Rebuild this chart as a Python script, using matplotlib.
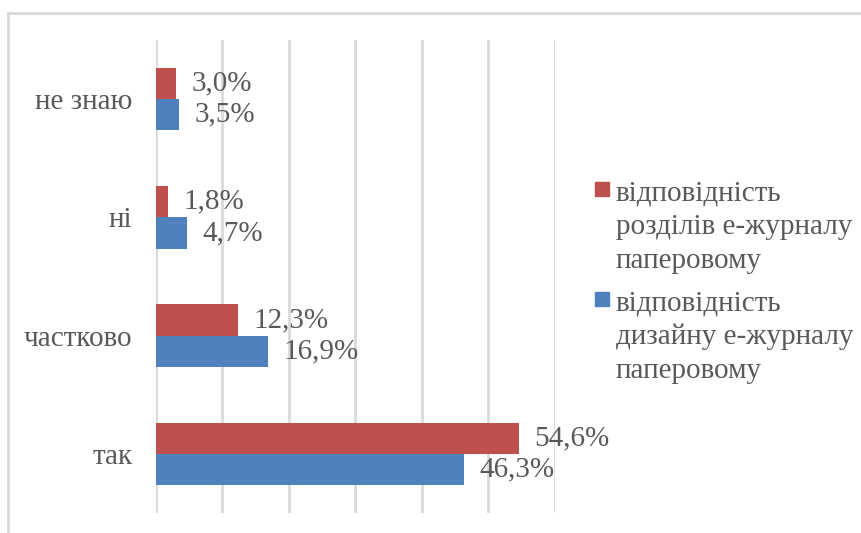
import numpy as np
import matplotlib.pyplot as plt
from matplotlib.lines import Line2D
from matplotlib.patches import Rectangle

categories = ["так", "частково", "ні", "не знаю"]
rozdily = [54.6, 12.3, 1.8, 3.0]
dyzain = [46.3, 16.9, 4.7, 3.5]
label_rozdily = "відповідність\nрозділів е-журналу\nпаперовому"
label_dyzain = "відповідність\nдизайну е-журналу\nпаперовому"

red = "#C0504D"
blue = "#4F81BD"
grey = "#595959"
fs = 21

plt.rcParams["font.family"] = ["Liberation Serif", "DejaVu Serif"]

fig = plt.figure(figsize=(8.62, 5.33), dpi=100)
ax = fig.add_axes([156 / 862, 1 - 513 / 533, (555 - 156) / 862, (513 - 40) / 533])

y = np.arange(len(categories))
h = 0.265
b1 = ax.barh(y + h / 2, rozdily, h, color=red, label=label_rozdily)
b2 = ax.barh(y - h / 2, dyzain, h, color=blue, label=label_dyzain)

for bars, vals in [(b1, rozdily), (b2, dyzain)]:
    for bar, v in zip(bars, vals):
        ax.annotate(f"{v:.1f}%".replace(".", ","),
                    (bar.get_width(), bar.get_y() + bar.get_height() / 2),
                    xytext=(11, 0), textcoords="offset points",
                    ha="left", va="center", fontsize=fs, color=grey)

ax.set_xlim(0, 60)
ax.set_ylim(-0.5, 3.5)
ax.set_xticks(np.arange(0, 61, 10))
ax.set_xticklabels([])
ax.set_yticks(y)
ax.set_yticklabels(categories, fontsize=fs, color=grey)
ax.tick_params(length=0, axis="both")
ax.tick_params(axis="y", pad=17)
ax.grid(axis="x", color="#D9D9D9", lw=2)
ax.set_axisbelow(True)
for s in ax.spines.values():
    s.set_visible(False)

# legend, marker next to the first line of each entry
W, H = 862, 533
for col, lab, ytop in [(red, label_rozdily, 182), (blue, label_dyzain, 292)]:
    fig.add_artist(Rectangle((595 / W, 1 - (ytop + 14) / H), 14 / W, 14 / H,
                             color=col, transform=fig.transFigure))
    fig.text(616 / W, 1 - (ytop + 45) / H, lab, fontsize=fs, color=grey,
             ha="left", va="center", linespacing=1.38)

# outer frame
fig.add_artist(Line2D([8 / W, 8 / W], [0, 1 - 13 / H], color="#D9D9D9", lw=2,
                      transform=fig.transFigure))
fig.add_artist(Line2D([8 / W, 1], [1 - 13 / H, 1 - 13 / H], color="#D9D9D9", lw=2,
                      transform=fig.transFigure))

plt.savefig("out.png", dpi=100)
